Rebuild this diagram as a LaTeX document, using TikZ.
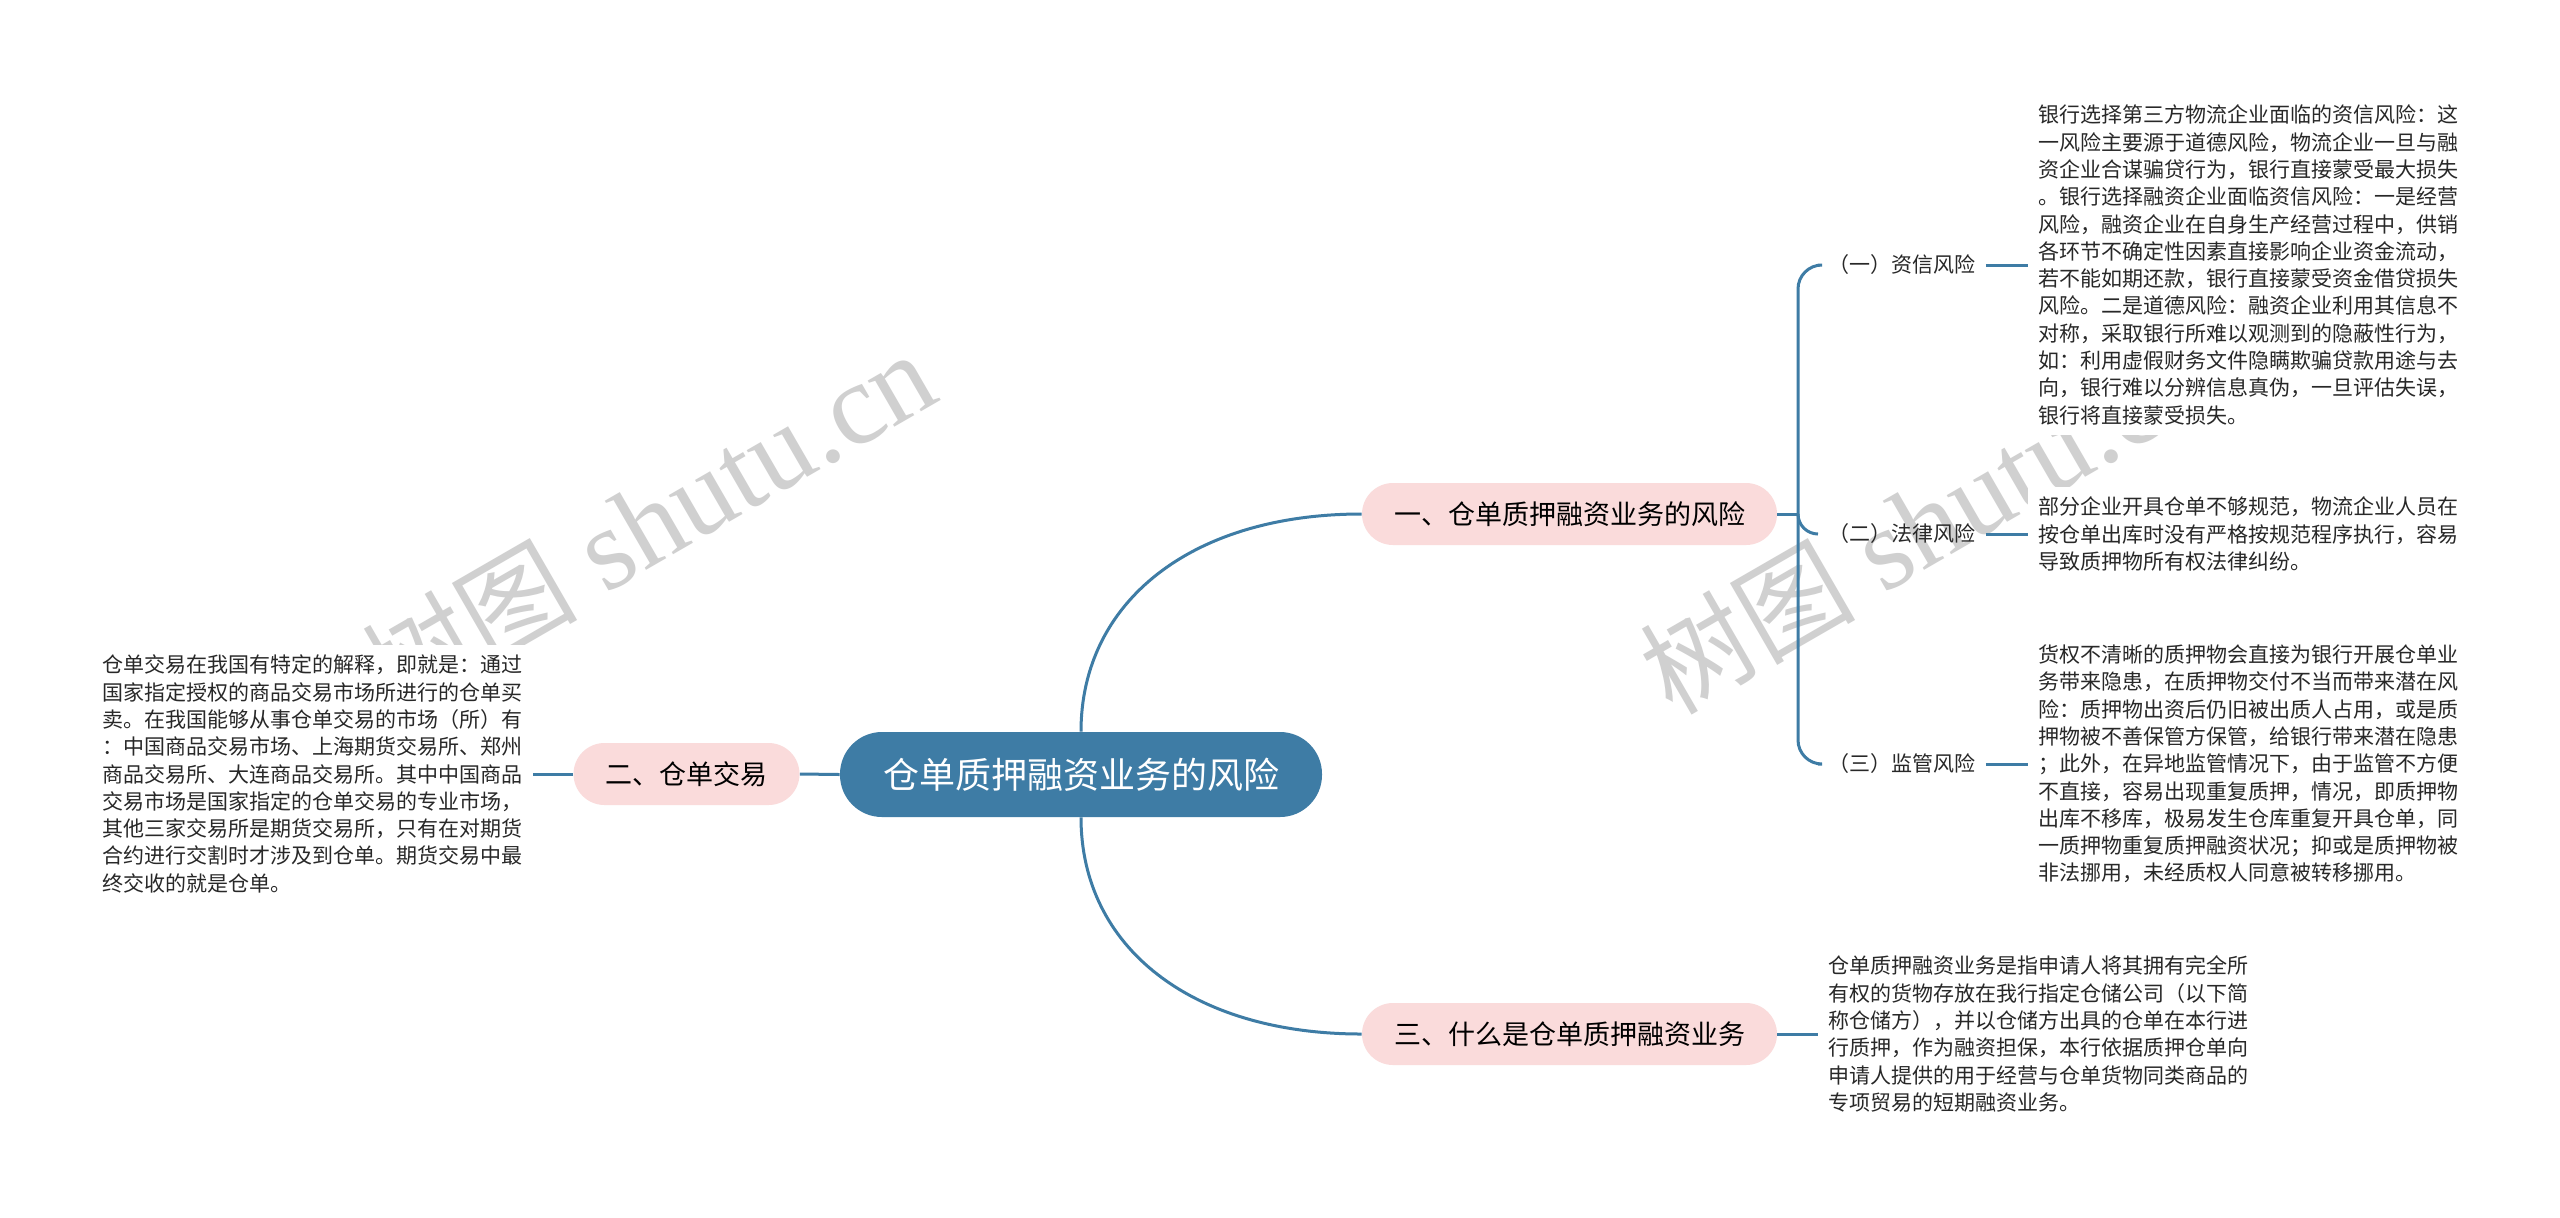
\documentclass[tikz,border=0pt]{standalone}
\usepackage{fontspec}
\usepackage{xcolor}
\usetikzlibrary{positioning}
\newfontfamily\cjk{Noto Sans CJK SC}
\newfontfamily\wmserif{Liberation Serif}
\definecolor{hblue}{RGB}{62,124,165}
\definecolor{hpink}{RGB}{250,219,219}
\definecolor{htext}{RGB}{40,40,40}
\definecolor{hgrey0}{RGB}{208,208,208}
\newcommand{\wmtext}{{\cjk\fontsize{54pt}{60pt}\selectfont 树图}\hspace{14pt}{\wmserif\fontsize{58pt}{64pt}\selectfont shutu.cn}}
\tikzset{
  rootnode/.style={fill=hblue, text=white, rounded corners=21pt, minimum width=241pt, minimum height=42.5pt, inner sep=0pt, font=\cjk\fontsize{18pt}{22pt}\selectfont},
  topicnode/.style={fill=hpink, text=black, rounded corners=15.5pt, minimum height=31pt, inner xsep=16pt, inner ysep=0pt, font=\cjk\fontsize{13.5pt}{16pt}\selectfont},
  subnode/.style={anchor=west, inner xsep=5pt, text=htext, font=\cjk\fontsize{10.5pt}{13pt}\selectfont},
  notetext/.style={fill=white, inner sep=5pt, align=left, text=htext, font=\cjk\fontsize{10.5pt}{13.65pt}\selectfont},
  link/.style={draw=hblue, line width=1.5pt},
  watermark/.style={text=hgrey0, rotate=30, inner sep=0pt}
}

\begin{document}
\begin{tikzpicture}[x=0.5pt,y=-0.5pt]
\useasboundingbox[fill=white] (0,0) rectangle (2560,1217);
% watermarks
\node[watermark] (wm1) at (648,522) {\wmtext};
\node[watermark] (wm2) at (1926,522) {\wmtext};

\node[rootnode] (root) at (1081,774.5) {仓单质押融资业务的风险};
\node[topicnode] (t1) at (1569.5,514) {一、仓单质押融资业务的风险};
\node[topicnode] (t2) at (686.5,774) {二、仓单交易};
\node[topicnode] (t3) at (1569.5,1034) {三、什么是仓单质押融资业务};

\coordinate (j1) at (1798,514);
\node[subnode] (s1) at (1818,265) {（一）资信风险};
\node[subnode] (s2) at (1818,534) {（二）法律风险};
\node[subnode] (s3) at (1818,764) {（三）监管风险};

\node[notetext, right=21pt of s1] (d1) {银行选择第三方物流企业面临的资信风险：这\\一风险主要源于道德风险，物流企业一旦与融\\资企业合谋骗贷行为，银行直接蒙受最大损失\\。银行选择融资企业面临资信风险：一是经营\\风险，融资企业在自身生产经营过程中，供销\\各环节不确定性因素直接影响企业资金流动，\\若不能如期还款，银行直接蒙受资金借贷损失\\风险。二是道德风险：融资企业利用其信息不\\对称，采取银行所难以观测到的隐蔽性行为，\\如：利用虚假财务文件隐瞒欺骗贷款用途与去\\向，银行难以分辨信息真伪，一旦评估失误，\\银行将直接蒙受损失。};
\node[notetext, right=21pt of s2] (d2) {部分企业开具仓单不够规范，物流企业人员在\\按仓单出库时没有严格按规范程序执行，容易\\导致质押物所有权法律纠纷。};
\node[notetext, right=21pt of s3] (d3) {货权不清晰的质押物会直接为银行开展仓单业\\务带来隐患，在质押物交付不当而带来潜在风\\险：质押物出资后仍旧被出质人占用，或是质\\押物被不善保管方保管，给银行带来潜在隐患\\；此外，在异地监管情况下，由于监管不方便\\不直接，容易出现重复质押，情况，即质押物\\出库不移库，极易发生仓库重复开具仓单，同\\一质押物重复质押融资状况；抑或是质押物被\\非法挪用，未经质权人同意被转移挪用。};
\node[notetext, left=20pt of t2] (d4) {仓单交易在我国有特定的解释，即就是：通过\\国家指定授权的商品交易市场所进行的仓单买\\卖。在我国能够从事仓单交易的市场（所）有\\：中国商品交易市场、上海期货交易所、郑州\\商品交易所、大连商品交易所。其中中国商品\\交易市场是国家指定的仓单交易的专业市场，\\其他三家交易所是期货交易所，只有在对期货\\合约进行交割时才涉及到仓单。期货交易中最\\终交收的就是仓单。};
\node[notetext, right=20.5pt of t3] (d5) {仓单质押融资业务是指申请人将其拥有完全所\\有权的货物存放在我行指定仓储公司（以下简\\称仓储方），并以仓储方出具的仓单在本行进\\行质押，作为融资担保，本行依据质押仓单向\\申请人提供的用于经营与仓单货物同类商品的\\专项贸易的短期融资业务。};

% connectors
\draw[link] (root.north) .. controls +(0,-130) and +(-170,0) .. (t1.west);
\draw[link] (root.south) .. controls +(0,130) and +(-170,0) .. (t3.west);
\draw[link] (root.west) -- (t2.east);
\draw[link] (t1.east) -- (j1);
\draw[link, rounded corners=12pt] (j1) |- (s1.west);
\draw[link, rounded corners=10pt] (j1) |- (s2.west);
\draw[link, rounded corners=12pt] (j1) |- (s3.west);
\draw[link] (s1.east) -- (d1.west);
\draw[link] (s2.east) -- (d2.west);
\draw[link] (s3.east) -- (d3.west);
\draw[link] (t2.west) -- (d4.east);
\draw[link] (t3.east) -- (d5.west);
\end{tikzpicture}
\end{document}
